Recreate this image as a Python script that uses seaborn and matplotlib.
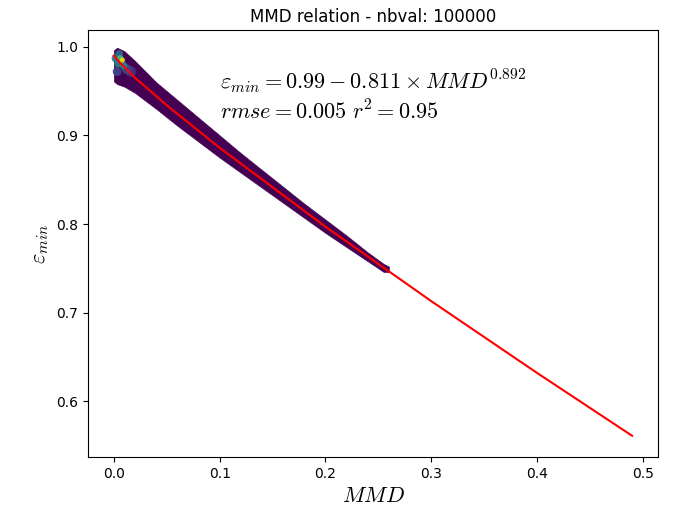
import matplotlib
matplotlib.use("Agg")
import matplotlib.pyplot as plt
import seaborn as sns
import pandas as pd

# --- data ---
# density cloud outline (MMD vs eps_min)
band_x = [0.000, 0.003, 0.010, 0.020, 0.040, 0.060, 0.080, 0.100, 0.120,
          0.140, 0.160, 0.180, 0.200, 0.220, 0.240, 0.255, 0.260]
band_top = [0.996, 0.999, 0.995, 0.984, 0.960, 0.940, 0.920, 0.900, 0.880,
            0.861, 0.842, 0.823, 0.805, 0.787, 0.768, 0.755, 0.752]
band_bot = [0.961, 0.958, 0.955, 0.948, 0.930, 0.911, 0.893, 0.875, 0.858,
            0.841, 0.824, 0.807, 0.790, 0.774, 0.758, 0.746, 0.746]

# high density spots (relative density 0..1)
hot_x = [0.016, 0.012, 0.003, 0.002, 0.005, 0.004, 0.009, 0.006, 0.008]
hot_y = [0.972, 0.975, 0.972, 0.987, 0.992, 0.981, 0.979, 0.987, 0.985]
hot_d = [0.14, 0.20, 0.22, 0.42, 0.35, 0.45, 0.45, 0.70, 0.95]
hot_s = [60, 50, 40, 40, 30, 30, 30, 22, 14]

# fitted curve
line_x = [0.0, 0.005, 0.01, 0.02, 0.05, 0.1, 0.2, 0.3, 0.4, 0.49]
line_y = [0.990, 0.983, 0.977, 0.965, 0.934, 0.886, 0.797, 0.713, 0.632, 0.561]

title = "MMD relation - nbval: 100000"
fit_text = "$\\varepsilon_{min} = 0.99 - 0.811 \\times MMD^{0.892}$\n$rmse = 0.005\\ r^2 = 0.95$"

plt.rcParams["mathtext.fontset"] = "cm"

fig = plt.figure(figsize=(6.74, 5.12), dpi=100)
ax = fig.add_axes([88 / 674, 1 - 457 / 512, (658 - 88) / 674, (457 - 30) / 512])

viridis = plt.get_cmap("viridis")
ax.fill_between(band_x, band_bot, band_top, color=viridis(0.0), linewidth=0.5,
                edgecolor=viridis(0.0), zorder=1)

hot = pd.DataFrame({"x": hot_x, "y": hot_y, "d": hot_d, "s": hot_s})
sns.scatterplot(data=hot, x="x", y="y", hue="d", palette="viridis", hue_norm=(0, 1),
                size="s", sizes=(min(hot_s), max(hot_s)), size_norm=(min(hot_s), max(hot_s)),
                linewidth=0, alpha=0.9, legend=False, ax=ax, zorder=2)

line_df = pd.DataFrame({"x": line_x, "y": line_y})
sns.lineplot(data=line_df, x="x", y="y", color="red", linewidth=1.5,
             estimator=None, sort=False, ax=ax, zorder=3)

ax.set_xlim(-0.0245, 0.5145)
ax.set_ylim(0.537, 1.019)
ax.set_xticks([0.0, 0.1, 0.2, 0.3, 0.4, 0.5])
ax.set_yticks([0.6, 0.7, 0.8, 0.9, 1.0])
ax.set_title(title, fontsize=12)
ax.set_xlabel("$MMD$", fontsize=16)
ax.set_ylabel("$\\varepsilon_{min}$", fontsize=16)
ax.text(0.1, 0.914, fit_text, fontsize=16, va="bottom", ha="left")

fig.savefig("out.png", dpi=100)
